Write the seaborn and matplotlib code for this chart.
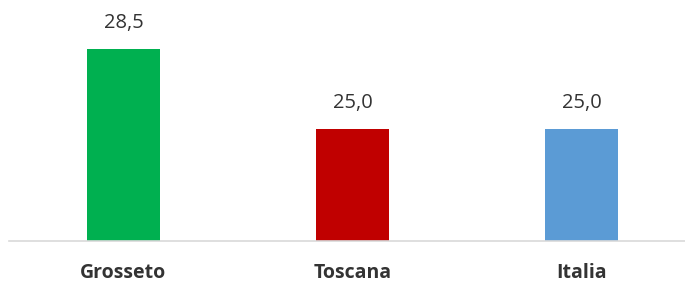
import matplotlib
matplotlib.use("Agg")
import matplotlib.pyplot as plt
import seaborn as sns
import pandas as pd

categories = ["Grosseto", "Toscana", "Italia"]
values = [28.5, 25.0, 25.0]
labels = ["28,5", "25,0", "25,0"]
colors = ["#00B050", "#C00000", "#5B9BD5"]

sns.set_theme(style="white")
plt.rcParams['font.family'] = ['Open Sans', 'DejaVu Sans']

df = pd.DataFrame({"cat": categories, "val": values})

W, H = 685, 282
fig = plt.figure(figsize=(W/100, H/100), dpi=100)
ax = fig.add_axes([9/W, 41/H, (W-9)/W, 241/H])

sns.barplot(data=df, x="cat", y="val", hue="cat", palette=colors, width=0.32,
            legend=False, ax=ax, saturation=1, linewidth=0)

ax.set_xlim(-0.5, 2.452)
ax.set_ylim(20.1, 30.64)
for i, (v, lab) in enumerate(zip(values, labels)):
    ax.text(i, v + 0.68, lab, ha="center", va="bottom", fontsize=14.5, color="#333333")

for s in ["top", "right", "left"]:
    ax.spines[s].set_visible(False)
ax.spines["bottom"].set_color("#D9D9D9")
ax.spines["bottom"].set_linewidth(1.2)
ax.set_yticks([])
ax.set_xlabel("")
ax.set_ylabel("")
ax.tick_params(axis="x", length=0, pad=16, labelsize=14, labelcolor="#333333")
for t in ax.get_xticklabels():
    t.set_fontweight("bold")

fig.savefig("out.png", dpi=100)
